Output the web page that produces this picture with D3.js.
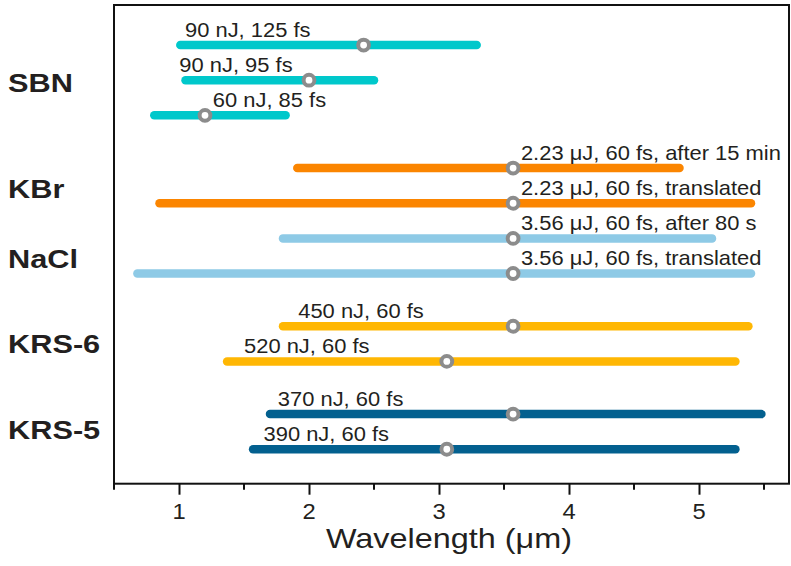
<!DOCTYPE html>
<html>
<head>
<meta charset="utf-8">
<script src="https://cdn.jsdelivr.net/npm/d3@7"></script>
<style>
  html, body { margin: 0; padding: 0; background: #fff; }
  svg { display: block; }
  text { font-family: "Liberation Sans", Arial, Helvetica, sans-serif; fill: #231f20; }
</style>
</head>
<body>
<svg id="chart" width="791" height="566"></svg>
<script>
// Supercontinuum spectral coverage per crystal and pump condition
const materials = ["SBN", "KBr", "NaCl", "KRS-6", "KRS-5"];
const materialColors = ["#00c8cb", "#fb8500", "#8ecae6", "#ffb703", "#03608f"];

const runLabels = [
  "90 nJ, 125 fs",
  "90 nJ, 95 fs",
  "60 nJ, 85 fs",
  "2.23 \u03bcJ, 60 fs, after 15 min",
  "2.23 \u03bcJ, 60 fs, translated",
  "3.56 \u03bcJ, 60 fs, after 80 s",
  "3.56 \u03bcJ, 60 fs, translated",
  "450 nJ, 60 fs",
  "520 nJ, 60 fs",
  "370 nJ, 60 fs",
  "390 nJ, 60 fs"
];
const runMaterial = ["SBN", "SBN", "SBN", "KBr", "KBr", "NaCl", "NaCl", "KRS-6", "KRS-6", "KRS-5", "KRS-5"];
const spanStart = [1.01, 1.05, 0.81, 1.91, 0.85, 1.80, 0.68, 1.80, 1.37, 1.70, 1.57];   // μm
const spanEnd   = [3.29, 2.50, 1.82, 4.85, 5.40, 5.10, 5.40, 5.38, 5.28, 5.48, 5.28];   // μm
const pumpWavelength = [2.42, 2.00, 1.20, 3.57, 3.57, 3.57, 3.57, 3.57, 3.06, 3.57, 3.06]; // μm

const xTicks = [1, 2, 3, 4, 5];
const xMinorTicks = [0.5, 1.5, 2.5, 3.5, 4.5, 5.5];

// Layout: vertical slot of each run, slot of each material label, label anchor (μm)
const runSlot = [0, 1, 2, 3.5, 4.5, 5.5, 6.5, 8, 9, 10.5, 11.5];
const materialSlot = [1.33, 4.36, 6.35, 8.77, 11.2];
const runLabelAt = [1.046, 1.002, 1.26, 3.63, 3.63, 3.63, 3.63, 1.917, 1.50, 1.76, 1.65];

const svg = d3.select("#chart");
const frame = { left: 114, right: 790, top: 5, bottom: 483.7 };

const x = d3.scaleLinear().domain([0.5, 5.7]).range([frame.left, frame.right]);
const y = d3.scaleLinear().domain([-1.14, 12.48]).range([frame.top, frame.bottom]);
const color = d3.scaleOrdinal().domain(materials).range(materialColors);

// Plot frame
svg.append("rect")
  .attr("x", frame.left).attr("y", frame.top)
  .attr("width", frame.right - frame.left - 1)
  .attr("height", frame.bottom - frame.top)
  .attr("fill", "none").attr("stroke", "#111").attr("stroke-width", 2);

// Bottom axis: major ticks with labels, minor ticks at half-microns
const axis = svg.append("g").attr("transform", `translate(0,${frame.bottom})`);
axis.call(d3.axisBottom(x).tickValues(xTicks).tickSize(11).tickFormat(d3.format("d")))
  .call(g => g.select(".domain").remove())
  .call(g => g.selectAll(".tick line").attr("stroke", "#111").attr("stroke-width", 2))
  .call(g => g.selectAll(".tick text").remove());
axis.selectAll(".minor").data(xMinorTicks).join("line")
  .attr("class", "minor")
  .attr("x1", d => x(d)).attr("x2", d => x(d))
  .attr("y1", 0).attr("y2", 6)
  .attr("stroke", "#111").attr("stroke-width", 2);

svg.append("g").selectAll("text").data(xTicks).join("text")
  .attr("transform", d => `translate(${x(d)},519) scale(1.08,1)`)
  .attr("text-anchor", "middle")
  .attr("font-size", 22)
  .text(d => d);

svg.append("text")
  .attr("transform", `translate(449,548) scale(1.2,1)`)
  .attr("text-anchor", "middle")
  .attr("font-size", 27)
  .text("Wavelength (\u03bcm)");

// Material labels
svg.append("g").selectAll("text").data(materials).join("text")
  .attr("transform", (d, i) => `translate(8,${y(materialSlot[i]) + 0}) scale(1.16,1)`)
  .attr("font-size", 26.5)
  .attr("font-weight", "bold")
  .text(d => d);

const runs = runLabels.map((label, i) => ({
  label,
  material: runMaterial[i],
  start: spanStart[i],
  end: spanEnd[i],
  pump: pumpWavelength[i],
  slot: runSlot[i],
  labelAt: runLabelAt[i]
}));

// Spectral span bars
svg.append("g").selectAll("line").data(runs).join("line")
  .attr("x1", d => x(d.start)).attr("x2", d => x(d.end))
  .attr("y1", d => y(d.slot)).attr("y2", d => y(d.slot))
  .attr("stroke", d => color(d.material))
  .attr("stroke-width", 8.5)
  .attr("stroke-linecap", "round");

// Run annotations
svg.append("g").selectAll("text").data(runs).join("text")
  .attr("transform", d => `translate(${x(d.labelAt)},${y(d.slot) - 8.5}) scale(1.07,1)`)
  .attr("font-size", 20.5)
  .text(d => d.label);

// Pump wavelength markers
svg.append("g").selectAll("circle").data(runs).join("circle")
  .attr("cx", d => x(d.pump)).attr("cy", d => y(d.slot))
  .attr("r", 5.4)
  .attr("fill", "#fff")
  .attr("stroke", "#8c8c8c")
  .attr("stroke-width", 4);
</script>
</body>
</html>
